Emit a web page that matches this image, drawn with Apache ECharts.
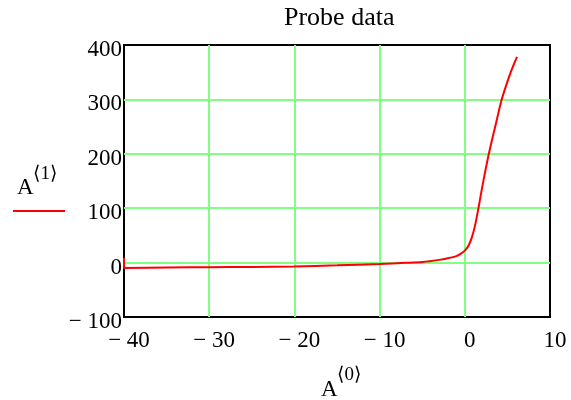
<!DOCTYPE html>
<html>
<head>
<meta charset="utf-8">
<script src="https://cdn.jsdelivr.net/npm/echarts@6/dist/echarts.min.js"></script>
<style>html,body{margin:0;padding:0;background:#fff}#c{width:571px;height:400px}</style>
</head>
<body>
<div id="c"></div>
<script>
var titleText = 'Probe data';
var xValues = [-40, -40, -35, -30, -25, -20, -15, -10, -7, -5, -3, -2, -1, -0.5, 0, 0.4, 0.8, 1.2, 1.6, 2.0, 2.4, 2.82, 3.2, 3.6, 4.0, 4.3, 4.8, 5.3, 5.8, 6.13];
var yValues = [9, -10, -9, -8.5, -8, -7, -5, -2.5, -0.5, 1, 5, 8, 12, 16, 22, 30, 45, 68, 100, 135, 168, 200, 226, 252, 279, 298, 323, 346, 366, 378];
var xTicks = {min: -40, max: 10, interval: 10};
var yTicks = {min: -100, max: 400, interval: 100};
var serif = '"Liberation Serif", "Times New Roman", "DejaVu Serif", serif';

function fmt(v) { return v < 0 ? '\u2212 ' + Math.abs(v) : String(v); }

var data = xValues.map(function (x, i) { return [x, yValues[i]]; });

var chart = echarts.init(document.getElementById('c'), null, {renderer: 'canvas'});
chart.setOption({
  animation: false,
  backgroundColor: '#fff',
  title: {
    text: titleText, left: 279, top: 0,
    textStyle: {fontFamily: serif, fontWeight: 'normal', fontSize: 26, color: '#000'}
  },
  grid: {
    left: 124, top: 45, right: 21, bottom: 83,
    show: true, borderColor: '#000', borderWidth: 2, backgroundColor: 'transparent'
  },
  xAxis: {
    type: 'value', min: xTicks.min, max: xTicks.max, interval: xTicks.interval,
    axisLine: {show: false}, axisTick: {show: false},
    splitLine: {show: true, showMinLine: false, showMaxLine: false, lineStyle: {color: '#80ff80', width: 2}},
    axisLabel: {formatter: fmt, fontFamily: serif, fontSize: 23, color: '#000', margin: 12, padding: [0, 0, 0, 10]}
  },
  yAxis: {
    type: 'value', min: yTicks.min, max: yTicks.max, interval: yTicks.interval,
    axisLine: {show: false}, axisTick: {show: false},
    splitLine: {show: true, showMinLine: false, showMaxLine: false, lineStyle: {color: '#80ff80', width: 2}},
    axisLabel: {formatter: fmt, fontFamily: serif, fontSize: 23, color: '#000', margin: 2, verticalAlign: 'top', lineHeight: 10}
  },
  series: [{
    type: 'line', data: data, showSymbol: false, smooth: 0.25,
    lineStyle: {color: '#ff0000', width: 2}, z: 3
  }],
  graphic: [
    {type: 'text', left: 17, top: 176, style: {text: 'A', font: '23px ' + serif, fill: '#000'}},
    {type: 'text', left: 33, top: 165, style: {text: '\u27E81\u27E9', font: '19px ' + serif, fill: '#000'}},
    {type: 'line', shape: {x1: 13, y1: 211, x2: 65, y2: 211}, style: {stroke: '#ff0000', lineWidth: 2}},
    {type: 'text', left: 321, top: 378, style: {text: 'A', font: '23px ' + serif, fill: '#000'}},
    {type: 'text', left: 337, top: 366, style: {text: '\u27E80\u27E9', font: '19px ' + serif, fill: '#000'}}
  ]
});
</script>
</body>
</html>
